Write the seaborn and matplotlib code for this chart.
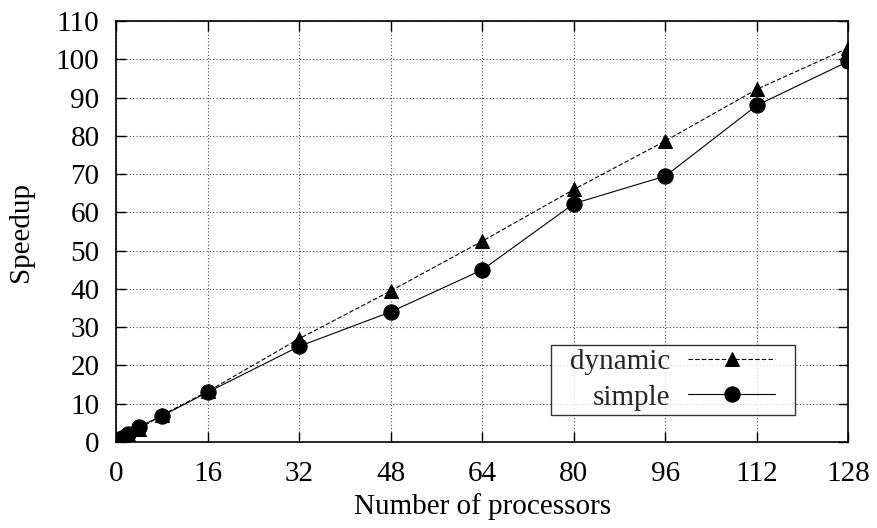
import matplotlib
matplotlib.use("Agg")
import matplotlib.pyplot as plt
from matplotlib.path import Path
import seaborn as sns
import pandas as pd

sns.set_theme(style="ticks")
plt.rcParams["font.family"] = ["Liberation Serif", "DejaVu Serif"]

processors = [1, 2, 4, 8, 16, 32, 48, 64, 80, 96, 112, 128]
dynamic = [1.0, 2.0, 3.4, 7.0, 13.2, 27.0, 39.5, 52.5, 66.0, 78.7, 92.2, 103.0]
simple = [1.0, 2.2, 4.0, 6.8, 13.0, 25.0, 34.0, 45.0, 62.3, 69.5, 88.0, 99.5]
xticks = [0, 16, 32, 48, 64, 80, 96, 112, 128]
yticks = list(range(0, 111, 10))

df = pd.DataFrame({"procs": processors, "dynamic": dynamic, "simple": simple})

FS = 21


def wide_box(x0, y0, width, height, mutation_size):
    # legend frame with extra room left and right only
    px = 15
    x1 = x0 + width
    y1 = y0 + height
    return Path([(x0 - px, y0), (x1 + px, y0), (x1 + px, y1), (x0 - px, y1), (x0 - px, y0)],
                closed=True)


fig = plt.figure(figsize=(8.77, 5.28), dpi=100)
ax = fig.add_axes([0.1325, 0.163, 0.835, 0.797])

sns.lineplot(data=df, x="procs", y="dynamic", ax=ax, color="black",
             linestyle=(0, (4, 2)), linewidth=0.8, marker="^", markersize=10,
             markeredgecolor="black", label="dynamic")
sns.lineplot(data=df, x="procs", y="simple", ax=ax, color="black",
             linestyle="-", linewidth=0.8, marker="o", markersize=11,
             markeredgecolor="black", label="simple")

ax.set_xlim(0, 128)
ax.set_ylim(0, 110)
ax.set_xticks(xticks)
ax.set_yticks(yticks)
ax.grid(True, color="#444444", linestyle=(0, (1, 2)), linewidth=0.8)
ax.tick_params(direction="in", top=True, right=True, length=7, width=1,
               labelsize=FS, color="black", labelcolor="black")
ax.tick_params(axis="x", pad=14)
ax.tick_params(axis="y", pad=12)
for s in ax.spines.values():
    s.set_color("black")
    s.set_linewidth(1.2)
ax.set_xlabel("Number of processors", fontsize=FS, color="black", labelpad=4)
ax.set_ylabel("Speedup", fontsize=FS, color="black", labelpad=16)

leg = ax.legend(loc="lower right", bbox_to_anchor=(0.906, 0.064), fontsize=FS,
                markerfirst=False, frameon=True, fancybox=False,
                handlelength=3.0, borderpad=0.15, labelspacing=0.3,
                handletextpad=0.6, borderaxespad=0)
leg.get_frame().set_edgecolor("black")
leg.get_frame().set_linewidth(1.0)
leg.get_frame().set_boxstyle(wide_box)
for t in leg.get_texts():
    t.set_ha("right")
leg._legend_box.align = "right"

fig.savefig("out.png", dpi=100)
